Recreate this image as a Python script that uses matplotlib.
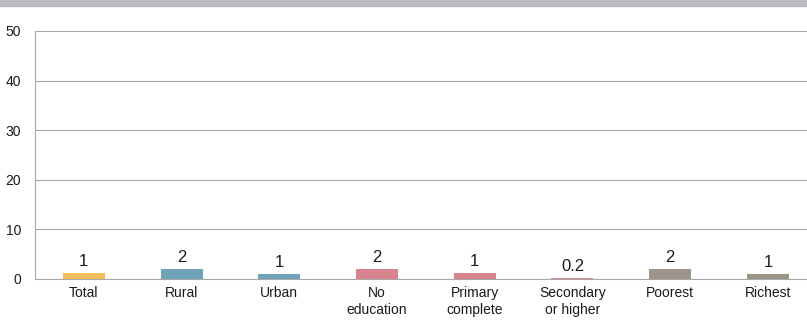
import matplotlib.pyplot as plt
from matplotlib.patches import Rectangle

plt.rcParams['font.family'] = ['Liberation Sans', 'DejaVu Sans']

# Data
categories = ["Total", "Rural", "Urban", "No\neducation", "Primary\ncomplete",
              "Secondary\nor higher", "Poorest", "Richest"]
values = [1.2, 2.0, 1.0, 2.0, 1.2, 0.2, 2.0, 1.0]
labels = ["1", "2", "1", "2", "1", "0.2", "2", "1"]
colors = ['#F0BE5A', '#6FA3B8', '#6FA3B8', '#D8848E', '#D8848E', '#D8848E',
          '#9E958A', '#9E958A']

fig = plt.figure(figsize=(8.07, 3.22), dpi=100)
ax = fig.add_axes([35 / 807, 43 / 322, 1 - 35 / 807, 248 / 322])

# grey banner at the top
fig.patches.append(Rectangle((0, 1 - 6 / 322), 1, 6 / 322, transform=fig.transFigure,
                             color='#B9BBBE', zorder=0))

x = list(range(len(categories)))
ax.bar(x, values, width=0.43, color=colors, zorder=3)
for xi, v, lab in zip(x, values, labels):
    ax.text(xi, v + 0.9, lab, ha='center', va='bottom', fontsize=12, color='#1a1a1a')

ax.set_ylim(0, 50)
ax.set_xlim(-0.5, 7.4)
ax.set_yticks([0, 10, 20, 30, 40, 50])
ax.set_xticks(x)
ax.set_xticklabels(categories, fontsize=10, linespacing=1.25, color='#1a1a1a')
ax.tick_params(axis='y', length=0, pad=10, labelsize=10, labelcolor='#1a1a1a')
ax.tick_params(axis='x', length=0, pad=5)
ax.grid(axis='y', color='#A8A8A8', linewidth=0.8, zorder=0)
for s in ['top', 'right']:
    ax.spines[s].set_visible(False)
for s in ['left', 'bottom']:
    ax.spines[s].set_color('#A8A8A8')
    ax.spines[s].set_linewidth(0.8)

fig.savefig("out.png", dpi=100)
